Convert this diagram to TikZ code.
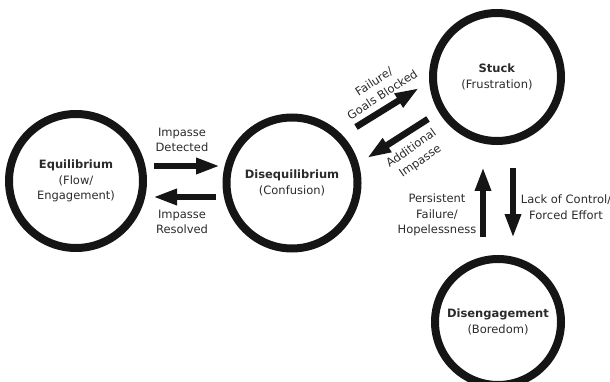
\documentclass[tikz,border=0pt]{standalone}
\usepackage{fontspec}
\setmainfont{DejaVu Sans}
\usetikzlibrary{arrows.meta}
\definecolor{ring}{HTML}{151515}
\definecolor{txt}{HTML}{2B2B2B}
\tikzset{
  x=1pt,y=-1pt,
  state/.style={circle,draw=ring,line width=8pt,inner sep=0pt,align=center,text=txt,
    font=\fontsize{11.5}{15.5}\selectfont},
  lbl/.style={align=center,text=txt,inner sep=0pt,font=\fontsize{11.5}{15.5}\selectfont},
  fat/.style={draw=ring,line width=6.5pt,-{Triangle[length=24pt,width=15pt]}}
}
\begin{document}
\begin{tikzpicture}
\useasboundingbox (0,0) rectangle (610,382);
\node[state,minimum size=134pt] (eq) at (76,181) {\textbf{Equilibrium}\\(Flow/\\Engagement)};
\node[state,minimum size=131pt] (dis) at (292,183) {\textbf{Disequilibrium}\\(Confusion)};
\node[state,minimum size=128pt] (st) at (497,77) {\textbf{Stuck}\\(Frustration)};
\node[state,minimum size=126pt] (de) at (498,322) {\textbf{Disengagement}\\(Boredom)};
% horizontal arrows
\coordinate (a1s) at (154,166); \coordinate (a1e) at (220,166);
\coordinate (a2s) at (216,197); \coordinate (a2e) at (153,197);
\draw[fat] (a1s) -- (a1e);
\draw[fat] (a2s) -- (a2e);
\node[lbl] (l1) at (182,140) {Impasse\\Detected};
\node[lbl] (l2) at (182,222) {Impasse\\Resolved};
% diagonal arrows
\coordinate (b1s) at (356,127); \coordinate (b1e) at (419,88);
\coordinate (b2s) at (428,119); \coordinate (b2e) at (367,158);
\draw[fat] (b1s) -- (b1e);
\draw[fat] (b2s) -- (b2e);
\node[lbl,rotate=33] (l3) at (378,88) {Failure/\\Goals Blocked};
\node[lbl,rotate=35] (l4) at (416,155) {Additional\\Impasse};
% vertical arrows
\coordinate (c1s) at (483,237); \coordinate (c1e) at (483,167);
\coordinate (c2s) at (513,168); \coordinate (c2e) at (513,238);
\draw[fat] (c1s) -- (c1e);
\draw[fat] (c2s) -- (c2e);
\node[lbl] (l5) at (437,215) {Persistent\\Failure/\\Hopelessness};
\node[lbl] (l6) at (566,207) {Lack of Control/\\Forced Effort};
\end{tikzpicture}
\end{document}
